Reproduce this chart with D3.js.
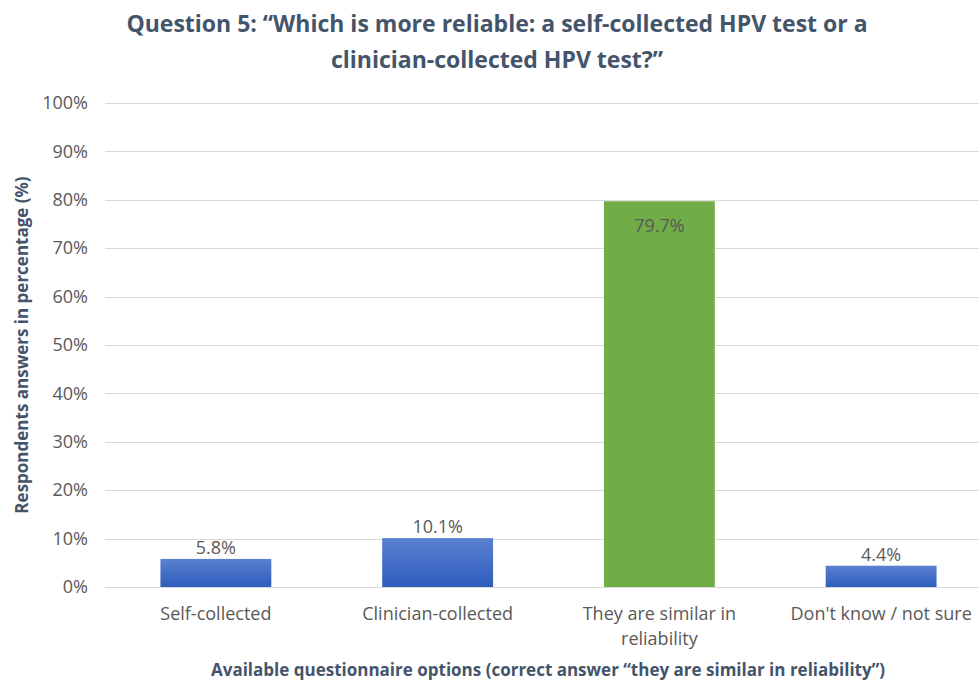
<!DOCTYPE html>
<html>
<head>
<meta charset="utf-8">
<script src="https://cdn.jsdelivr.net/npm/d3@7"></script>
<style>
  html, body { margin: 0; padding: 0; background: #fff; }
  svg { display: block; }
</style>
</head>
<body>
<svg id="chart" width="979" height="682"></svg>
<script>
// Survey answers to question 5
const categories = ["Self-collected", "Clinician-collected", "They are similar in reliability", "Don't know / not sure"];
const categoryLines = [["Self-collected"], ["Clinician-collected"], ["They are similar in", "reliability"], ["Don't know / not sure"]];
const values = [5.8, 10.1, 79.7, 4.4];
const isCorrect = [false, false, true, false];
const yTicks = [0, 10, 20, 30, 40, 50, 60, 70, 80, 90, 100];
const titleLines = ["Question 5: \u201cWhich is more reliable: a self-collected HPV test or a", "clinician-collected HPV test?\u201d"];
const yTitle = "Respondents answers in percentage (%)";
const xTitle = "Available questionnaire options (correct answer \u201cthey are similar in reliability\u201d)";

const svg = d3.select("#chart");
const font = "'Open Sans', 'Noto Sans', sans-serif";
const textColor = "#44546A";
const tickColor = "#595959";
const labelSize = 18;

const plot = { left: 105, right: 992, top: 103, bottom: 587 };

const x = d3.scaleBand().domain(categories).range([plot.left, plot.right]).paddingInner(0.5).paddingOuter(0.25);
const y = d3.scaleLinear().domain([0, 100]).range([plot.bottom, plot.top]);

// Gradient for the blue bars
const defs = svg.append("defs");
const grad = defs.append("linearGradient").attr("id", "blueGrad").attr("x1", 0).attr("y1", 0).attr("x2", 0).attr("y2", 1);
grad.append("stop").attr("offset", "0%").attr("stop-color", "#5A80D0");
grad.append("stop").attr("offset", "100%").attr("stop-color", "#2E5DBE");

// Gridlines
svg.append("g").selectAll("line").data(yTicks).join("line")
  .attr("x1", plot.left).attr("x2", 979)
  .attr("y1", d => Math.round(y(d)) + 0.5).attr("y2", d => Math.round(y(d)) + 0.5)
  .attr("stroke", "#D9D9D9").attr("stroke-width", 1);

// Y tick labels
const yAxis = d3.axisLeft(y).tickValues(yTicks).tickFormat(d => d + "%").tickSize(0).tickPadding(0);
const yg = svg.append("g").attr("transform", `translate(${plot.left - 17},0)`).call(yAxis);
yg.select(".domain").remove();
yg.selectAll("text").attr("font-family", font).attr("font-size", labelSize).attr("fill", tickColor);

// Bars
svg.append("g").selectAll("rect").data(values).join("rect")
  .attr("x", (d, i) => x(categories[i]))
  .attr("width", x.bandwidth())
  .attr("y", d => y(d))
  .attr("height", d => y(0) - y(d))
  .attr("fill", (d, i) => isCorrect[i] ? "#70AD47" : "url(#blueGrad)");

// Value labels
svg.append("g").selectAll("text").data(values).join("text")
  .attr("x", (d, i) => x(categories[i]) + x.bandwidth() / 2)
  .attr("y", (d, i) => isCorrect[i] ? y(d) + 31 : y(d) - 5)
  .attr("text-anchor", "middle")
  .attr("font-family", font).attr("font-size", labelSize).attr("fill", tickColor)
  .text(d => d.toFixed(1) + "%");

// Category labels
const cg = svg.append("g").selectAll("text").data(categoryLines).join("text")
  .attr("text-anchor", "middle")
  .attr("font-family", font).attr("font-size", labelSize).attr("fill", tickColor)
  .attr("transform", (d, i) => `translate(${x(categories[i]) + x.bandwidth() / 2},620)`);
cg.selectAll("tspan").data(d => d).join("tspan")
  .attr("x", 0).attr("dy", (d, i) => i === 0 ? 0 : 25).text(d => d);

// Title
svg.append("g").selectAll("text").data(titleLines).join("text")
  .attr("x", 497).attr("y", (d, i) => 32 + i * 36)
  .attr("text-anchor", "middle")
  .attr("font-family", font).attr("font-size", 23).attr("font-weight", "bold").attr("fill", textColor)
  .text(d => d);

// Axis titles
svg.append("text")
  .attr("transform", "translate(28,345) rotate(-90)")
  .attr("text-anchor", "middle")
  .attr("font-family", font).attr("font-size", 17).attr("font-weight", "bold").attr("fill", textColor)
  .text(yTitle);

svg.append("text")
  .attr("x", 548).attr("y", 676)
  .attr("text-anchor", "middle")
  .attr("font-family", font).attr("font-size", 17).attr("font-weight", "bold").attr("fill", textColor)
  .text(xTitle);
</script>
</body>
</html>
